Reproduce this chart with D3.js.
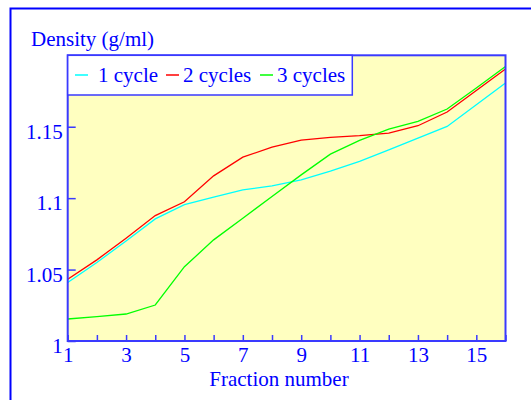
<!DOCTYPE html>
<html><head><meta charset="utf-8">
<script src="https://cdn.jsdelivr.net/npm/d3@7/dist/d3.min.js"></script>
<style>body{margin:0;background:#fff;} text{font-family:"Liberation Serif","Times New Roman",serif;}</style>
</head><body><svg id="c" width="531" height="400"></svg>
<script>
const fractions = d3.range(1, 17);
const cycle1 = [1.041, 1.055, 1.070, 1.0855, 1.0955, 1.1007, 1.1058, 1.1086, 1.1128, 1.119, 1.1257, 1.1338, 1.142, 1.1502, 1.1654, 1.1806];
const cycle2 = [1.0432, 1.0568, 1.072, 1.0878, 1.0975, 1.1156, 1.1287, 1.1357, 1.1406, 1.1425, 1.1437, 1.1455, 1.1507, 1.1603, 1.1754, 1.1904];
const cycle3 = [1.0154, 1.017, 1.0189, 1.0252, 1.052, 1.0708, 1.086, 1.1011, 1.1163, 1.1308, 1.1404, 1.1483, 1.1537, 1.1624, 1.1771, 1.1922];
const seriesNames = ["1 cycle", "2 cycles", "3 cycles"];
const seriesColors = ["#00ffff", "#ff0000", "#00ff00"];
const xTickLabels = [1, 3, 5, 7, 9, 11, 13, 15];
const yTickLabels = [1, 1.05, 1.1, 1.15];

const svg = d3.select("#c");
const blue = "#0000ff", axisBlue = "#3a3aff";
const FS = 21;
const L = 67.7, R = 505.5, T = 55.3, B = 341;
const x = d3.scaleLinear().domain([1, 16]).range([L, R]);
const y = d3.scaleLinear().domain([1, 1.2]).range([B, T]);

// outer frame
svg.append("rect").attr("x", 10.5).attr("y", 8.5).attr("width", 540).attr("height", 420)
  .attr("fill", "none").attr("stroke", blue).attr("stroke-width", 2);

// plot background
svg.append("rect").attr("x", L).attr("y", T).attr("width", R - L).attr("height", B - T)
  .attr("fill", "#ffffc0");

// lines
const data = [cycle1, cycle2, cycle3];
const line = d3.line().x((d, i) => x(fractions[i])).y(d => y(d));
data.forEach((s, k) => {
  svg.append("path").datum(s).attr("d", line).attr("fill", "none")
    .attr("stroke", seriesColors[k]).attr("stroke-width", 1.3);
});

// axes (inward ticks)
const xAxis = d3.axisBottom(x).tickValues(fractions).tickSize(-6)
  .tickFormat(d => xTickLabels.includes(d) ? d : "");
const gx = svg.append("g").attr("transform", `translate(0,${B})`).call(xAxis);
gx.select(".domain").remove();
gx.selectAll("line").attr("stroke", axisBlue).attr("stroke-width", 1.5);
gx.selectAll("text").attr("fill", blue).attr("font-size", FS).attr("y", 21).attr("dy", null);

const yAxis = d3.axisLeft(y).tickValues(yTickLabels).tickSize(-8).tickFormat(d => d);
const gy = svg.append("g").attr("transform", `translate(${L},0)`).call(yAxis);
gy.select(".domain").remove();
gy.selectAll("line").attr("stroke", axisBlue).attr("stroke-width", 1.5);
gy.selectAll("text").attr("fill", blue).attr("font-size", FS).attr("x", -5).attr("dy", "0.55em");

// plot border
svg.append("rect").attr("x", L).attr("y", T).attr("width", R - L).attr("height", B - T)
  .attr("fill", "none").attr("stroke", axisBlue).attr("stroke-width", 2);

// titles
svg.append("text").attr("x", 31).attr("y", 46).attr("fill", blue).attr("font-size", FS)
  .text("Density (g/ml)");
svg.append("text").attr("x", 279).attr("y", 386).attr("text-anchor", "middle")
  .attr("fill", blue).attr("font-size", FS).text("Fraction number");

// legend
svg.append("rect").attr("x", L).attr("y", T).attr("width", 352.3 - L).attr("height", 95 - T)
  .attr("fill", "#fff").attr("stroke", axisBlue).attr("stroke-width", 1.5);
const legX = [75, 166, 260];
seriesNames.forEach((n, k) => {
  svg.append("line").attr("x1", legX[k]).attr("x2", legX[k] + 13).attr("y1", 75).attr("y2", 75)
    .attr("stroke", seriesColors[k]).attr("stroke-width", 1.5);
  svg.append("text").attr("x", legX[k] + (k === 0 ? 23 : 17)).attr("y", 82).attr("fill", blue)
    .attr("font-size", FS).text(n);
});
</script></body></html>
